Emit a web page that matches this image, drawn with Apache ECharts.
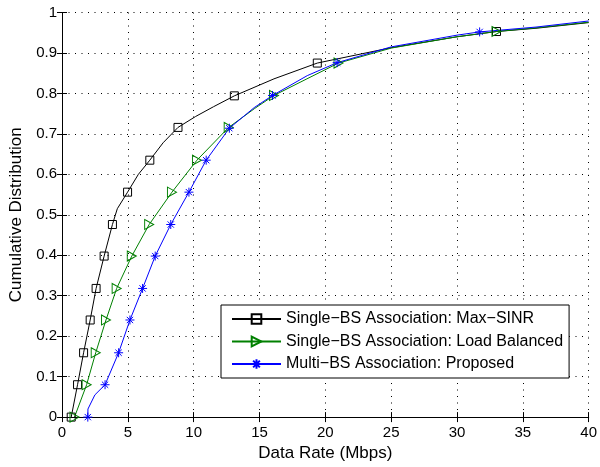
<!DOCTYPE html>
<html>
<head>
<meta charset="utf-8">
<script src="https://cdn.jsdelivr.net/npm/echarts@6/dist/echarts.min.js"></script>
<style>html,body{margin:0;padding:0;background:#fff;}#c{width:600px;height:467px;}</style>
</head>
<body>
<div id="c"></div>
<script>
// ---- data ----
const seriesNames = ['Single\u2212BS Association: Max\u2212SINR', 'Single\u2212BS Association: Load Balanced', 'Multi\u2212BS Association: Proposed'];
// marker points
const maxSinrMarkX = [0.7, 1.18, 1.64, 2.14, 2.59, 3.2, 3.83, 4.98, 6.67, 8.81, 13.09, 19.39, 33.0];
const maxSinrMarkY = [0, 0.08, 0.159, 0.24, 0.318, 0.398, 0.476, 0.556, 0.635, 0.716, 0.794, 0.875, 0.953];
// extra curve points (no marker)
const maxSinrLineX = [4.2, 5.8, 7.68, 10.15, 11.5, 16.1, 25, 30, 36, 40];
const maxSinrLineY = [0.515, 0.6, 0.678, 0.743, 0.767, 0.836, 0.913, 0.94, 0.961, 0.975];

const loadBalMarkX = [0.95, 1.87, 2.56, 3.34, 4.15, 5.3, 6.62, 8.35, 10.25, 12.66, 16.1, 21.0, 33.0];
const loadBalMarkY = [0, 0.08, 0.159, 0.24, 0.318, 0.398, 0.476, 0.556, 0.635, 0.716, 0.795, 0.875, 0.953];
const loadBalLineX = [14.6, 18.6, 25, 30, 36, 40];
const loadBalLineY = [0.762, 0.836, 0.912, 0.94, 0.962, 0.976];

const proposedMarkX = [1.96, 3.27, 4.3, 5.16, 6.12, 7.08, 8.26, 9.64, 10.95, 12.71, 15.99, 20.9, 31.72];
const proposedMarkY = [0, 0.08, 0.159, 0.24, 0.318, 0.398, 0.476, 0.556, 0.635, 0.714, 0.795, 0.876, 0.952];
const proposedLineX = [1.97, 2.5, 14.6, 18.63, 25, 30, 36, 40];
const proposedLineY = [0.02, 0.055, 0.765, 0.844, 0.915, 0.944, 0.964, 0.979];

const xTicks = [0, 5, 10, 15, 20, 25, 30, 35, 40];
const yTicks = [0, 0.1, 0.2, 0.3, 0.4, 0.5, 0.6, 0.7, 0.8, 0.9, 1];

// ---- build ----
function build(mx, my, lx, ly) {
  const pts = [];
  for (let i = 0; i < mx.length; i++) pts.push({ value: [mx[i], my[i]], m: true });
  for (let i = 0; i < lx.length; i++) pts.push({ value: [lx[i], ly[i]], m: false });
  pts.sort((a, b) => (a.value[1] - b.value[1]) || (a.value[0] - b.value[0]));
  return pts.map(p => p.m ? { value: p.value } : { value: p.value, symbol: 'none' });
}
const starPath = 'path://M0,-10L0,10M-10,0L10,0M-7,-7L7,7M-7,7L7,-7';
const triPath = 'path://M0,0L10,5L0,10Z';
const FONT = 'Liberation Sans, Arial, Helvetica, sans-serif';

const chart = echarts.init(document.getElementById('c'), null, { renderer: 'canvas' });
function mkSeries(name, data, color, symbol, size) {
  return {
    name: name, type: 'line', data: data, xAxisIndex: 0, yAxisIndex: 0,
    symbol: symbol, symbolSize: size, showSymbol: true, showAllSymbol: true,
    lineStyle: { color: color, width: 1 },
    itemStyle: { color: 'rgba(0,0,0,0)', borderColor: color, borderWidth: 1 },
    emphasis: { disabled: true }, animation: false, z: 3
  };
}
const axisCommon = {
  axisLine: { show: true, lineStyle: { color: '#000', width: 1 } },
  axisTick: { show: true, inside: true, length: 5, lineStyle: { color: '#000' } },
};
chart.setOption({
  backgroundColor: '#fff',
  animation: false,
  textStyle: { fontFamily: FONT },
  grid: { left: 60, right: 10.5, top: 12.5, bottom: 43.5, containLabel: false },
  legend: {
    data: seriesNames,
    orient: 'vertical', left: 221, top: 305,
    itemWidth: 49, itemHeight: 12, itemGap: 6.5, itemTextGap: 6,
    padding: [6, 6, 6, 10],
    backgroundColor: '#fff', borderColor: '#000', borderWidth: 1, borderRadius: 0,
    selectedMode: false,
    textStyle: { fontSize: 16, color: '#000', fontFamily: FONT }
  },
  xAxis: [
    Object.assign({
      type: 'value', min: xTicks[0], max: xTicks[xTicks.length - 1], interval: xTicks[1] - xTicks[0],
      name: 'Data Rate (Mbps)', nameLocation: 'middle', nameGap: 24,
      nameTextStyle: { fontSize: 17, color: '#000', fontFamily: FONT },
      axisLabel: { fontSize: 15, color: '#000', margin: 8, fontFamily: FONT },
      splitLine: { show: true, lineStyle: { color: '#000', type: [1, 5.5], width: 1 } }
    }, axisCommon),
    Object.assign({
      type: 'value', position: 'top', min: xTicks[0], max: xTicks[xTicks.length - 1], interval: xTicks[1] - xTicks[0],
      axisLabel: { show: false }, splitLine: { show: false }
    }, axisCommon)
  ],
  yAxis: [
    Object.assign({
      type: 'value', min: yTicks[0], max: yTicks[yTicks.length - 1], interval: 0.1,
      name: 'Cumulative Distribution', nameLocation: 'middle', nameGap: 37,
      nameTextStyle: { fontSize: 17, color: '#000', fontFamily: FONT },
      axisLabel: { fontSize: 15, color: '#000', margin: 5, fontFamily: FONT, formatter: v => String(Math.round(v * 10) / 10) },
      splitLine: { show: true, lineStyle: { color: '#000', type: [1, 5.5], width: 1 } }
    }, axisCommon),
    Object.assign({
      type: 'value', position: 'right', min: yTicks[0], max: yTicks[yTicks.length - 1], interval: 0.1,
      axisLabel: { show: false }, splitLine: { show: false }
    }, axisCommon)
  ],
  series: [
    mkSeries(seriesNames[0], build(maxSinrMarkX, maxSinrMarkY, maxSinrLineX, maxSinrLineY), '#000000', 'rect', 8),
    mkSeries(seriesNames[1], build(loadBalMarkX, loadBalMarkY, loadBalLineX, loadBalLineY), '#008000', triPath, [9, 10]),
    mkSeries(seriesNames[2], build(proposedMarkX, proposedMarkY, proposedLineX, proposedLineY), '#0000ff', starPath, 9)
  ]
});
</script>
</body>
</html>
